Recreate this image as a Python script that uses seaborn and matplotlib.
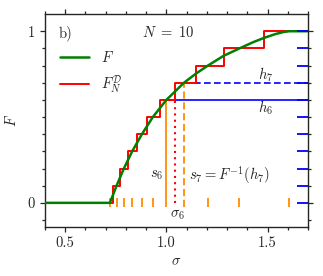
import numpy as np
import pandas as pd
import matplotlib
matplotlib.use("Agg")
import matplotlib.pyplot as plt
import seaborn as sns

# levels h_i and their inverse images s_i = F^-1(h_i)
h = [0.0, 0.1, 0.2, 0.3, 0.4, 0.5, 0.6, 0.7, 0.8, 0.9, 1.0]
s = [0.721, 0.754, 0.790, 0.831, 0.879, 0.933, 1.000, 1.087, 1.205, 1.361, 1.607]

# smooth F (extra points in the upper part)
F_sig = [0.40, 0.721, 0.754, 0.790, 0.831, 0.879, 0.933, 1.000, 1.087, 1.146,
         1.205, 1.283, 1.361, 1.43, 1.484, 1.54, 1.58, 1.607, 1.70]
F_val = [0.0, 0.0, 0.1, 0.2, 0.3, 0.4, 0.5, 0.6, 0.7, 0.753,
         0.8, 0.857, 0.9, 0.937, 0.962, 0.984, 0.996, 1.0, 1.0]

# samples sigma_i (jumps of the empirical cdf)
sig = [0.7375, 0.772, 0.810, 0.855, 0.906, 0.966, 1.044, 1.146, 1.283, 1.484]
N = len(sig)

sns.set_style("ticks")
plt.rcParams.update({
    "font.family": "serif",
    "font.serif": ["cmr10", "DejaVu Serif"],
    "mathtext.fontset": "cm",
    "axes.unicode_minus": False,
    "axes.formatter.use_mathtext": True,
    "font.size": 10.5,
})

fig = plt.figure(figsize=(3.23, 2.76), dpi=100)
ax = fig.add_axes([0.139, 0.178, 0.815, 0.771])

xlo, xhi = 0.4, 1.7

# empirical cdf
step = pd.DataFrame({"x": [xlo] + sig + [xhi],
                     "y": [0.0] + [(i + 1) / N for i in range(N)] + [1.0]})
sns.lineplot(data=step, x="x", y="y", drawstyle="steps-post", color="red",
             lw=1.4, ax=ax, label=r"$F_N^{\mathcal{D}}$", zorder=3)

dfF = pd.DataFrame({"x": F_sig, "y": F_val})
sns.lineplot(data=dfF, x="x", y="y", color="green", lw=1.8, ax=ax,
             label=r"$F$", sort=False, zorder=4)

# sample ticks on the axis
ax.vlines([v for i, v in enumerate(s) if i not in (6, 7)], -0.025, 0.03,
          color="darkorange", lw=1.3, zorder=2)
ax.vlines(s[6], -0.025, h[6], color="darkorange", lw=1.3, zorder=2)
ax.vlines(s[7], -0.025, h[7], color="darkorange", lw=1.3, ls=(0, (4, 2)), zorder=2)
ax.vlines(sig[6], 0.0, h[6], color="red", lw=1.5, ls=(0, (1, 2)), zorder=2)

# levels
ax.hlines(h[6], s[6], xhi, color="blue", lw=1.2, zorder=2)
ax.hlines(h[7], s[7], xhi, color="blue", lw=1.2, ls=(0, (4, 2)), zorder=2)
ax.hlines(h, 1.645, xhi, color="blue", lw=1.3, zorder=5)

ax.text(1.49, 0.745, r"$h_7$", ha="center", va="center")
ax.text(1.49, 0.553, r"$h_6$", ha="center", va="center")
ax.text(0.983, 0.162, r"$s_6$", ha="right", va="center")
ax.text(1.11, 0.162, r"$s_7 = F^{-1}(h_7)$", ha="left", va="center")
ax.text(1.056, -0.072, r"$\sigma_6$", ha="center", va="center")
ax.text(0.053, 0.91, "b)", transform=ax.transAxes, ha="left", va="center")
ax.text(1.01, 0.995, r"$N\ =\ 10$", ha="center", va="center")

ax.set_xlim(xlo, xhi)
ax.set_ylim(-0.14, 1.1)
ax.set_xticks([0.5, 1.0, 1.5])
ax.set_xticks(np.arange(0.4, 1.71, 0.1), minor=True)
ax.set_yticks([0, 1])
ax.set_yticks(np.arange(-0.1, 1.01, 0.1), minor=True)
ax.set_xticklabels(["0.5", "1.0", "1.5"])
ax.set_yticklabels(["0", "1"])
ax.tick_params(which="both", direction="out", top=True, right=True, width=0.9)
ax.tick_params(which="major", length=3.5)
ax.tick_params(which="minor", length=2.5)
for sp in ax.spines.values():
    sp.set_linewidth(1.0)
ax.set_xlabel(r"$\sigma$", labelpad=3)
ax.set_ylabel(r"$F$", labelpad=6)

hd, lb = ax.get_legend_handles_labels()
ax.legend(hd[::-1], lb[::-1], loc="upper left", bbox_to_anchor=(0.018, 0.88),
          frameon=False, handlelength=2.0, labelspacing=0.6, borderaxespad=0.3)

fig.savefig("out.png", dpi=100)
